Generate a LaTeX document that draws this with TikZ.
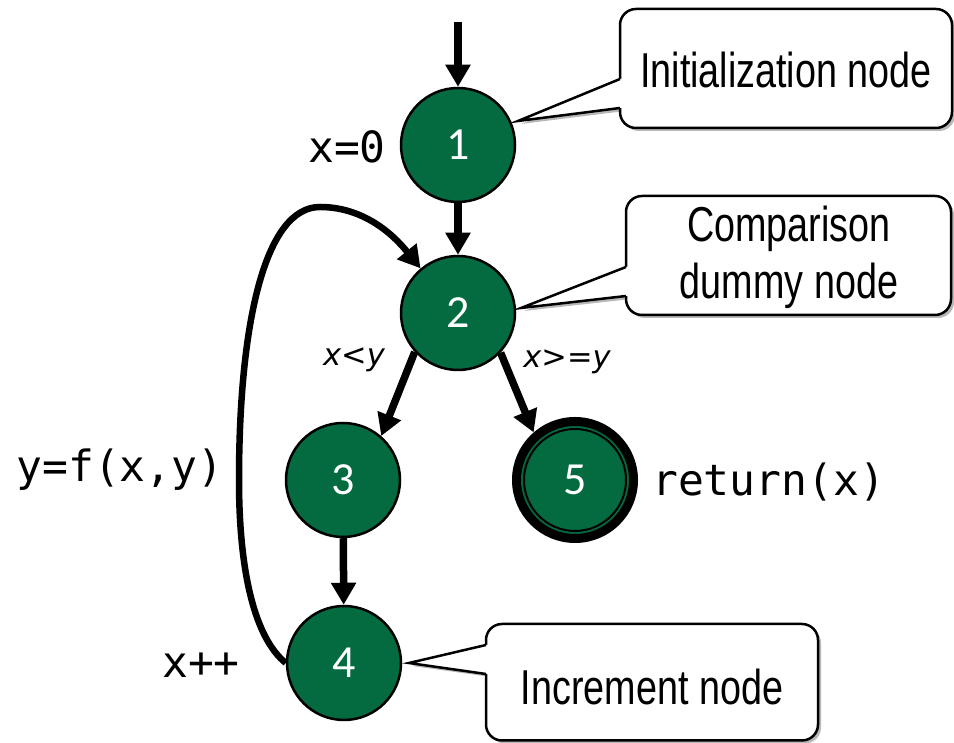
\documentclass[tikz,border=0pt]{standalone}
\usepackage{fontspec}
\setmainfont{Liberation Sans}
\newfontfamily\callfont{Liberation Sans}[FakeStretch=0.77]
\newfontfamily\numfont{Carlito}
\newfontfamily\codefont{DejaVu Sans Mono}
\newfontfamily\labfont{DejaVu Sans}
\usetikzlibrary{arrows.meta}
\definecolor{nodegreen}{HTML}{046A40}
\tikzset{
 gnode/.style={circle, fill=nodegreen, draw=black, line width=2.5pt, minimum size=114pt, inner sep=0pt, text=white, font=\numfont\fontsize{46}{50}\selectfont},
 flow/.style={line width=7.5pt, -{Triangle[length=22pt,width=24pt]}},
 loopflow/.style={line width=6.5pt, -{Triangle[length=22pt,width=24pt]}},
 code/.style={inner sep=0pt, font=\codefont\fontsize{43}{50}\selectfont},
 cond/.style={inner sep=0pt, font=\labfont\itshape\fontsize{30.5}{34}\selectfont},
 calltext/.style={inner sep=0pt, align=center, font=\callfont\fontsize{49}{57}\selectfont},
 callbox/.style={fill=white, draw=black, line width=2.5pt, rounded corners=16pt},
 callshadow/.style={fill=black!28},
}
\newcommand{\mycallout}[8]{%
 \begin{scope}[shift={(3,-3)}]
  \fill[callshadow, rounded corners=16pt] (#1,#2) rectangle (#3,#4);
  \fill[callshadow] (#7,#8) -- (#1+2,#5) -- (#1+2,#6) -- cycle;
 \end{scope}
 \draw[callbox] (#1,#2) rectangle (#3,#4);
 \fill[white] (#7,#8) -- (#1,#5) -- (#1+3,#5) -- (#1+3,#6) -- (#1,#6) -- cycle;
 \draw[line width=2.5pt, line join=miter] (#1,#5) -- (#7,#8) -- (#1,#6);
}
\begin{document}
\begin{tikzpicture}[x=1pt, y=1pt]
\useasboundingbox (0,0) rectangle (954,743);

% callouts
\mycallout{620}{615}{952}{734}{664}{635}{518}{622}
\node[calltext] (t1) at (786,673) {Initialization node};
\mycallout{626}{428}{951}{547}{476}{447}{521}{435}
\node[calltext] (t2) at (789,486) {Comparison\\dummy node};
\mycallout{486}{2.5}{818}{119}{98}{69}{409}{80}
\node[calltext] (t3) at (652,56) {Increment node};

% nodes
\node[gnode] (n1) at (458,598) {1};
\node[gnode] (n2) at (458,430) {2};
\node[gnode] (n3) at (343,263) {3};
\node[gnode] (n4) at (344,80) {4};
\node[gnode, line width=9pt, minimum size=117pt] (n5) at (575,263) {5};
\draw[line width=2pt] (n5.center) circle[radius=51];

% connectors
\coordinate (start) at (458,721);
\draw[flow] (start) -- (n1);
\draw[flow] (n1) -- (n2);
\draw[flow] (n2.222) -- (n3.49);
\draw[flow] (n2.317) -- (n5.131);
\draw[flow] (n3) -- (n4);
\coordinate (loopleft) at (239,263);
\coordinate (looptop) at (320,536);
\draw[loopflow] (n4.west) .. controls (255,105) and (239,170) .. (loopleft)
  .. controls (239,420) and (265,536) .. (looptop)
  .. controls (370,536) and (400,500) .. (n2.130);

% labels
\node[code, anchor=east] (l1) at (386,596) {x=0};
\node[code] (l2) at (120,273) {y=f(x,y)};
\node[code] (l3) at (201,78) {x++};
\node[code, anchor=west] (l4) at (652,261) {return(x)};
\node[cond] (c1) at (354,383) {x<y};
\node[cond] (c2) at (567,381) {x>=y};
\end{tikzpicture}
\end{document}
